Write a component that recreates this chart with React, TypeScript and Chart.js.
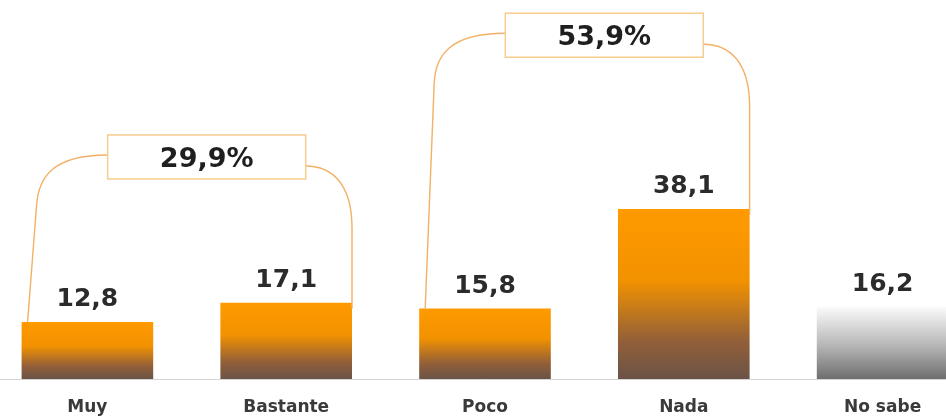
import React, { useEffect, useRef } from "react";
import { Chart, registerables } from "chart.js";

Chart.register(...registerables);

// ---- data ----
const categories = ["Muy", "Bastante", "Poco", "Nada", "No sabe"];
const values = [12.8, 17.1, 15.8, 38.1, 16.2];
const groupLabels = ["29,9%", "53,9%"];
const groupStart = [0, 2]; // category index of first bar in group
const groupEnd = [1, 3]; // category index of last bar in group
const groupLevel = [49.8, 77.1]; // value level of the summary box centre

const FONT = "'DejaVu Sans', Verdana, sans-serif";

function fmt(v: number) {
  return v.toFixed(1).replace(".", ",");
}

const annotPlugin = {
  id: "annot",
  afterDatasetsDraw(chart: any) {
    const ctx = chart.ctx as CanvasRenderingContext2D;
    const meta = chart.getDatasetMeta(0);
    const y = chart.scales.y;
    const x = chart.scales.x;
    ctx.save();
    // value labels
    ctx.fillStyle = "#2b2b2b";
    ctx.font = `bold 25px ${FONT}`;
    ctx.textAlign = "center";
    ctx.textBaseline = "alphabetic";
    meta.data.forEach((bar: any, i: number) => {
      ctx.fillText(fmt(values[i]), bar.x, bar.y - 16);
    });
    // group brackets and boxes
    const boxW = 198;
    const boxH = 44;
    groupLabels.forEach((label, g) => {
      const b0 = meta.data[groupStart[g]];
      const b1 = meta.data[groupEnd[g]];
      const cx = x.getPixelForValue(groupStart[g] + 0.6 * (groupEnd[g] - groupStart[g]));
      const cy = y.getPixelForValue(groupLevel[g]);
      const bl = cx - boxW / 2;
      const br = cx + boxW / 2;
      const xs = b0.x - b0.width / 2 + 6;
      const ys = b0.y;
      const xe = b1.x + b1.width / 2;
      const ye = b1.y + 6;
      ctx.strokeStyle = "#F3B066";
      ctx.lineWidth = 1.4;
      // left bracket: leaning line joined smoothly to a bend into the box
      const ly = cy - 2;
      const sx = xs + 9;
      const sy = ly + 50;
      const dx = sx - xs;
      const dy = sy - ys;
      const len = Math.hypot(dx, dy);
      const k = 28;
      ctx.beginPath();
      ctx.moveTo(xs, ys);
      ctx.lineTo(sx, sy);
      ctx.bezierCurveTo(sx + (dx / len) * k, sy + (dy / len) * k, sx + 16, ly, bl, ly);
      ctx.stroke();
      // right bracket
      const ry = cy + 9;
      ctx.beginPath();
      ctx.moveTo(br, ry);
      ctx.bezierCurveTo(xe - 20, ry, xe, ry + 18, xe, ry + 62);
      ctx.lineTo(xe, ye);
      ctx.stroke();
      // box
      ctx.fillStyle = "#ffffff";
      ctx.fillRect(bl, cy - boxH / 2, boxW, boxH);
      ctx.strokeStyle = "#F6CD8E";
      ctx.lineWidth = 1.5;
      ctx.strokeRect(bl, cy - boxH / 2, boxW, boxH);
      ctx.fillStyle = "#1f1f1f";
      ctx.font = `bold 27px ${FONT}`;
      ctx.textAlign = "center";
      ctx.textBaseline = "alphabetic";
      ctx.fillText(label, cx, cy + 10);
    });
    ctx.restore();
  },
};

export default function App() {
  const ref = useRef<HTMLCanvasElement | null>(null);
  useEffect(() => {
    document.body.style.overflow = "hidden";
    const canvas = ref.current!;
    const chart = new Chart(canvas, {
      type: "bar",
      data: {
        labels: categories,
        datasets: [
          {
            data: values,
            borderWidth: 0,
            categoryPercentage: 1,
            barPercentage: 0.662,
            backgroundColor: (c: any) => {
              const chart = c.chart;
              if (!chart.chartArea || c.dataIndex === undefined) return "#F39200";
              const ys = chart.scales.y;
              const top = ys.getPixelForValue(values[c.dataIndex]);
              const base = ys.getPixelForValue(0);
              const grad = chart.ctx.createLinearGradient(0, top, 0, base);
              if (c.dataIndex === values.length - 1) {
                grad.addColorStop(0, "#FBFBFB");
                grad.addColorStop(0.55, "#B4B4B4");
                grad.addColorStop(1, "#6E6E6E");
              } else {
                grad.addColorStop(0, "#FF9A00");
                grad.addColorStop(0.42, "#F29200");
                grad.addColorStop(0.78, "#925F39");
                grad.addColorStop(1, "#6A5347");
              }
              return grad;
            },
          },
        ],
      },
      options: {
        responsive: false,
        animation: false,
        devicePixelRatio: 1,
        layout: { padding: 0 },
        plugins: { legend: { display: false }, tooltip: { enabled: false } },
        scales: {
          x: {
            grid: { display: false, drawTicks: false },
            border: { display: true, color: "#D4D4D4", width: 1 },
            ticks: {
              padding: 18,
              color: "#3a3a3a",
              font: { family: FONT, size: 17, weight: "bold" },
            },
            afterFit: (s: any) => {
              s.height = 40;
            },
          },
          y: { display: false, min: 0, max: 85 },
        },
      },
      plugins: [annotPlugin],
    });
    return () => chart.destroy();
  }, []);
  return (
    <div style={{ position: "fixed", left: -12, top: 0, width: 994, height: 419, background: "#fff" }}>
      <canvas ref={ref} width={994} height={419} style={{ display: "block" }} />
    </div>
  );
}
